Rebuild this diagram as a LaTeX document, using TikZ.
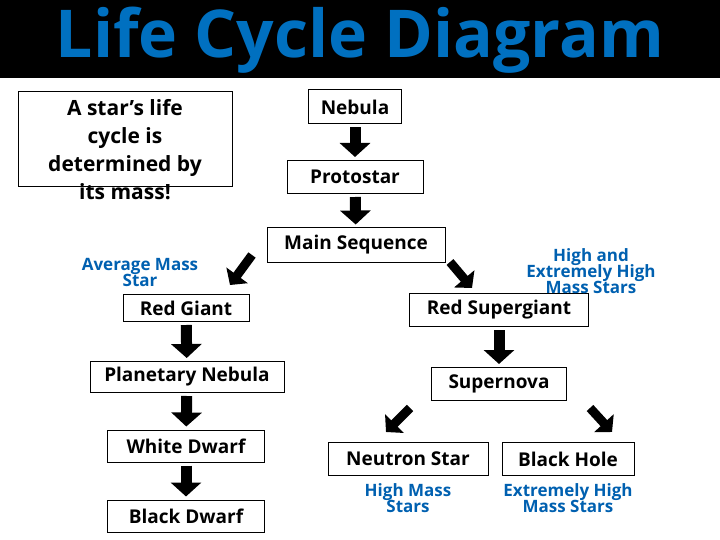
\documentclass[tikz,border=0pt]{standalone}
\usepackage{fontspec}
\setmainfont{Open Sans}
\usetikzlibrary{arrows.meta,positioning,calc}
\definecolor{titleblue}{RGB}{0,112,192}
\definecolor{noteblue}{RGB}{0,96,176}
\tikzset{
  stage/.style={draw,fill=white,line width=1pt,inner sep=0pt,font=\fontsize{19}{21}\selectfont\bfseries},
  note/.style={text=noteblue,align=center,font=\fontsize{17}{20}\selectfont\bfseries},
  flow/.style={line width=11pt,-{Triangle[length=14pt,width=30pt]},shorten >=3pt,shorten <=3pt},
  tilt/.style={line width=9pt,-{Triangle[length=12pt,width=26pt]}}
}
\begin{document}
\begin{tikzpicture}[x=1pt,y=-1pt]
\useasboundingbox (0,0) rectangle (720,540);
\fill[black] (0,0) rectangle (720,78);
\node (title) at (360,40) {\fontsize{66}{70}\selectfont\bfseries\color{titleblue}Life Cycle Diagram};
% intro
\draw[line width=1pt] (18,92) rectangle (232,187);
\node[align=center,font=\fontsize{21}{28}\selectfont\bfseries] (intro) at (125,150) {A star's life\\cycle is\\determined by\\its mass!};
% middle column
\node[stage,minimum width=93pt,minimum height=34pt] (nebula) at (355,107) {Nebula};
\node[stage,minimum width=136pt,minimum height=33pt] (proto) at (355,177) {Protostar};
\node[stage,minimum width=178pt,minimum height=34pt] (main) at (356,245) {Main Sequence};
% average mass
\node[note] (avg) at (140,272) {Average Mass\\[-4pt]Star};
\node[stage,minimum width=126pt,minimum height=27pt] (giant) at (186,308) {Red Giant};
\node[stage,minimum width=194pt,minimum height=31pt] (pnebula) at (187,377) {Planetary Nebula};
\node[stage,minimum width=157pt,minimum height=32pt] (wdwarf) at (186,446) {White Dwarf};
\node[stage,minimum width=157pt,minimum height=32pt] (bdwarf) at (186,516) {Black Dwarf};
% high mass
\node[stage,minimum width=179pt,minimum height=33pt] (super) at (499,310) {Red Supergiant};
\node[note] (high) at (591,271) {High and\\[-4pt]Extremely High\\[-4pt]Mass Stars};
\node[stage,minimum width=135pt,minimum height=33pt] (nova) at (499,384) {Supernova};
\node[stage,minimum width=160pt,minimum height=33pt] (neutron) at (408,459) {Neutron Star};
\node[stage,minimum width=132pt,minimum height=33pt] (hole) at (568,459) {Black Hole};
\node[note] (nlabel) at (408,498) {High Mass\\[-4pt]Stars};
\node[note] (hlabel) at (568,498) {Extremely High\\[-4pt]Mass Stars};
% arrow ends
\coordinate (ml0) at (252,255); \coordinate (ml1) at (230,285);
\coordinate (mr0) at (450,262); \coordinate (mr1) at (472,288);
\coordinate (nl0) at (410,408); \coordinate (nl1) at (386,432);
\coordinate (nr0) at (590,408); \coordinate (nr1) at (612,432);
% arrows
\draw[flow] (nebula) -- (proto);
\draw[flow] (proto) -- (main);
\draw[tilt] (ml0) -- (ml1);
\draw[tilt] (mr0) -- (mr1);
\draw[flow] (giant) -- (pnebula);
\draw[flow] (pnebula) -- (wdwarf);
\draw[flow] (wdwarf) -- (bdwarf);
\draw[flow] (super) -- (nova);
\draw[tilt] (nl0) -- (nl1);
\draw[tilt] (nr0) -- (nr1);
\end{tikzpicture}
\end{document}
